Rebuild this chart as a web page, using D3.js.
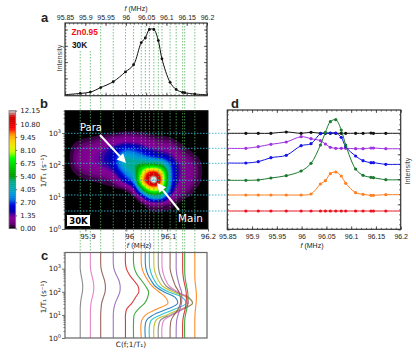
<!DOCTYPE html>
<html><head><meta charset="utf-8">
<script src="https://cdn.jsdelivr.net/npm/d3@7"></script>
<style>html,body{margin:0;padding:0;background:#fff}svg{display:block}
.lib{font-family:"Liberation Sans",Arial,sans-serif}.dv{font-family:"DejaVu Sans",sans-serif}</style>
</head><body><svg id="c" width="416" height="352"></svg>
<script>
const freqs=[95.8875,95.9125,95.938,95.969,95.999,96.019,96.038,96.048,96.058,96.069,96.08,96.089,96.109,96.124,96.14,96.145,96.17];
const spectrum=[0.02,0.04,0.11,0.2,0.35,0.46,0.8,0.87,1,1,0.83,0.55,0.19,0.08,0.035,0.03,0.01];
const xTicksTop=[95.85,95.9,95.95,96,96.05,96.1,96.15,96.2];
const xTicksHeat=[95.9,96,96.1,96.2];
const black=[9.6,9.6,9.6,9.73,9.6,9.7,9.6,9.6,9.6,9.6,9.6,9.6,9.6,9.6,9.63,9.6,9.6];
const purple=[8.1,8.26,8.5,8.73,9.26,9.06,8.86,8.53,8.2,8.1,8.1,8.1,8.06,8.06,8.13,8.13,8.06];
const blue=[6.63,6.76,7.16,7.4,8.36,8.56,9.56,9.63,9.63,9.63,9.2,8.26,7.33,6.86,6.66,6.66,6.5];
const green=[4.9,4.93,5.13,5.36,5.83,6.6,8.43,9.7,10.76,10.96,9.93,8.43,6.03,5.4,5.2,5.16,4.96];
const orange=[3.43,3.43,3.43,3.43,3.43,3.53,4.53,4.86,5.56,5.73,5.33,4.6,3.66,3.5,3.4,3.4,3.46];
const red=[1.83,1.83,1.83,1.83,1.83,1.83,1.83,1.83,1.83,1.83,1.83,1.83,1.83,1.83,1.83,1.83,1.83];
const baselines=[9.6,8.1,6.6,4.9,3.43,1.83];
const colorbarTicks=[0,1.35,2.7,4.05,5.4,6.75,8.1,9.45,10.8,12.15];
const logRows=[0,0.75,1,1.25,1.5,1.75,2,2.25,2.5,2.75,3,3.25,3.7];
const heatFreqs=[95.85,...freqs,96.2];
const heat=[
[0,0,0,0,0,0,0,0,0,0,0,0,0],
[0,0,0,0,.1,.35,.7,.8,.6,.25,0,0,0],
[0,0,0,.05,.2,.6,1,1.1,.85,.4,.05,0,0],
[0,0,0,.1,.3,.85,1.4,1.5,1.2,.6,.12,0,0],
[0,0,0,.15,.6,1.4,2.1,2.2,1.8,.9,.2,0,0],
[0,0,0,.4,2,3.2,4.3,4,2.6,1.2,.3,0,0],
[0,0,.2,1.5,3.5,4.5,4.8,3.8,2.5,1.1,.3,0,0],
[0,.1,1.4,5,8.5,7.8,5.6,3.4,2.1,1,.25,0,0],
[0,.3,2.6,7,10.3,9.6,5.9,3.1,1.8,.8,.2,0,0],
[0,.5,3.6,8.2,11.7,10.6,6,2.9,1.6,.7,.15,0,0],
[0,.6,4.2,8.6,12.4,10.8,6,2.7,1.4,.6,.1,0,0],
[0,.6,4,8,10.9,9.8,5.6,2.5,1.3,.5,.1,0,0],
[0,.5,3.4,6.6,8.5,8,5,2.3,1.2,.5,.1,0,0],
[0,.3,1.3,2.6,3.3,3.3,2.8,1.7,1,.4,0,0,0],
[0,.15,.6,1.2,1.7,1.8,1.7,1.1,.6,.2,0,0,0],
[0,.05,.35,.8,1.1,1.2,1.1,.75,.35,.1,0,0,0],
[0,0,.25,.65,.95,1.05,.95,.6,.25,.05,0,0,0],
[0,0,.05,.2,.4,.5,.45,.25,.05,0,0,0,0],
[0,0,0,0,0,0,0,0,0,0,0,0,0]];
const sliceColors=["#7f7f7f","#e377c2","#8c564b","#9467bd","#d62728","#2ca02c","#ff7f0e","#1f77b4","#17becf","#bcbd22","#7f7f7f","#e377c2","#8c564b","#9467bd","#d62728","#2ca02c","#ff7f0e"];
const specStops=[[0,0,0],[.4667,0,.5333],[.5333,0,.6],[0,0,.6667],[0,0,.8667],[0,.4667,.8667],[0,.6,.8667],[0,.6667,.6667],[0,.6667,.5333],[0,.6,0],[0,.7333,0],[0,.8667,0],[0,1,0],[.7333,1,0],[.9333,.9333,0],[1,.8,0],[1,.6,0],[1,0,0],[.8667,0,0],[.8,0,0],[.8,.8,.8]];

const svg=d3.select("#c");
const specInterp=d3.piecewise(d3.interpolateRgb,specStops.map(c=>d3.rgb(c[0]*255,c[1]*255,c[2]*255)));
const color=d3.scaleSequential(specInterp).domain([0,12.15]);
const PA={l:65,r:207,t:23,b:95.7},PB={l:65,r:208,t:110.7,b:229},PC={l:65,r:207,t:252.5,b:338},PD={l:227.3,r:400.7,t:110,b:229.3};
const xA=d3.scaleLinear([95.85,96.2],[PA.l,PA.r]);
const yA=d3.scaleLinear([-0.015,1.1],[PA.b,PA.t]);
const xB=d3.scaleLinear([95.85,96.2],[PB.l,PB.r]);
const yB=d3.scaleLog([1,5000],[PB.b,PB.t]);
const xC=d3.scaleLinear([95.85,96.2],[PC.l,PC.r]);
const yC=d3.scaleLog([1,5000],[PC.b,PC.t]);
const xD=d3.scaleLinear([95.85,96.2],[PD.l,PD.r]);
const yD=d3.scaleLinear([0,11.93],[PD.b,PD.t]);
const cOff=d3.scaleLinear([0,12.15],[0,38]);
const colIndex=d3.scaleLinear(heatFreqs,d3.range(heatFreqs.length));
const rowIndex=d3.scaleLinear(logRows,d3.range(logRows.length));
const cr=(a,b,c,d,t)=>0.5*(2*b+(c-a)*t+(2*a-5*b+4*c-d)*t*t+(3*b-a-3*c+d)*t*t*t);
function field(f,lg){
 const u=colIndex(f),v=rowIndex(lg),i=Math.floor(u),j=Math.floor(v),tu=u-i,tv=v-j;
 const nc=heat.length-1,nr=logRows.length-1,cl=(x,m)=>Math.max(0,Math.min(m,x));
 const rows=[-1,0,1,2].map(dj=>{const r=cl(j+dj,nr);
  return cr(heat[cl(i-1,nc)][r],heat[cl(i,nc)][r],heat[cl(i+1,nc)][r],heat[cl(i+2,nc)][r],tu);});
 return Math.max(0,cr(rows[0],rows[1],rows[2],rows[3],tv));
}
// heat map
const W=Math.round(PB.r-PB.l),H=Math.round(PB.b-PB.t);
const vals=new Float64Array(W*H);
for(let j=0;j<H;j++)for(let i=0;i<W;i++)vals[j*W+i]=field(xB.invert(PB.l+i+.5),Math.log10(yB.invert(PB.t+j+.5)));
const levels=d3.range(1,61).map(k=>k*12.15/60);
const hg=svg.append("g");
hg.append("rect").attr("x",PB.l).attr("y",PB.t).attr("width",PB.r-PB.l).attr("height",PB.b-PB.t).attr("fill","#000");
const cs=d3.contours().size([W,H]).thresholds(levels)(Array.from(vals));
const gp=d3.geoPath();
hg.append("g").attr("transform",`translate(${PB.l},${PB.t})`).selectAll("path").data(cs).join("path")
 .attr("d",gp).attr("fill",d=>color(d.value+0.1)).attr("stroke","none");
// guides
const gl=svg.append("g");
freqs.forEach((f,i)=>gl.append("line").attr("x1",xA(f)).attr("x2",xA(f)).attr("y1",i<2?51:PA.t).attr("y2",PC.t)
 .attr("stroke","#55b060").attr("stroke-width",.9).attr("stroke-dasharray","1.5,1.5").attr("opacity",.85));
baselines.forEach(b=>gl.append("line").attr("x1",PB.l).attr("x2",PD.l).attr("y1",yD(b)).attr("y2",yD(b))
 .attr("stroke","#2fb4d8").attr("stroke-width",.9).attr("stroke-dasharray","1.5,1.5"));
// helper
function frame(P,col,w){svg.append("rect").attr("x",P.l).attr("y",P.t).attr("width",P.r-P.l).attr("height",P.b-P.t).attr("fill","none").attr("stroke",col).attr("stroke-width",w);}
function ticks(axis,tr,vals,size,labels,cls,fs,col){
 const g=svg.append("g").attr("transform",tr).call(axis.tickValues(vals).tickSize(size).tickFormat(labels||(()=>"")));
 g.select(".domain").remove();g.selectAll("line").attr("stroke",col||"#222").attr("stroke-width",.7);
 g.selectAll("text").attr("class",cls||"lib").attr("font-size",fs||7).attr("fill","#222").attr("font-family",null);return g;}
const minorX=d3.range(95.85,96.2001,0.01),majX=xTicksTop;
function boxTicks(P,x,y,yMaj,yMin,withTop,withBottomLabels){
 ticks(d3.axisBottom(x),`translate(0,${P.b})`,minorX,-1.5);
 ticks(d3.axisBottom(x),`translate(0,${P.b})`,majX,-3,withBottomLabels?(d=>d3.format("~g")(d)):null).selectAll("text").attr("y",5);
 ticks(d3.axisTop(x),`translate(0,${P.t})`,minorX,-1.5);
 ticks(d3.axisTop(x),`translate(0,${P.t})`,majX,-3,withTop?(d=>d3.format("~g")(d)):null).selectAll("text").attr("y",-3);
 [[d3.axisLeft(y),P.l],[d3.axisRight(y),P.r]].forEach(([a,px])=>{
  ticks(a,`translate(${px},0)`,yMin,-1.5);ticks(a,`translate(${px},0)`,yMaj,-3);});
}
// panel a
const lineA=d3.line().x(d=>xA(d[0])).y(d=>yA(d[1])).curve(d3.curveCatmullRom);
svg.append("path").attr("d",lineA([[95.85,0],...freqs.map((f,i)=>[f,spectrum[i]]),[96.2,0]])).attr("fill","none").attr("stroke","#111").attr("stroke-width",1);
svg.append("g").selectAll("circle").data(freqs).join("circle").attr("cx",d=>xA(d)).attr("cy",(d,i)=>yA(spectrum[i])).attr("r",1.4).attr("fill","#111");
boxTicks(PA,xA,yA,[0,.25,.5,.75,1],d3.range(0,1.1,.05),true,false);
frame(PA,"#333",1.2);
// panel b axes
const decades=[1,10,100,1000];
const minorLog=d3.range(0,4).flatMap(k=>[2,3,4,5,6,7,8,9].map(m=>m*Math.pow(10,k))).filter(v=>v<=5000);
function logLabels(g){g.selectAll("text").each(function(d){const t=d3.select(this);t.text("");
  t.append("tspan").text("10");t.append("tspan").attr("dy",-3).attr("font-size",5).text(Math.round(Math.log10(d)));});}
function logAxis(P,y,col){
 ticks(d3.axisLeft(y),`translate(${P.l},0)`,minorLog,1.5,null,"dv",7,col);
 const g=ticks(d3.axisLeft(y),`translate(${P.l},0)`,decades,3,d=>d,"dv",7.2,col);logLabels(g);g.selectAll("text").attr("x",-4);}
logAxis(PB,yB,"#333");
ticks(d3.axisBottom(xB),`translate(0,${PB.b})`,xTicksHeat,2.5,d=>d3.format("~g")(d),"dv",7,"#333").selectAll("text").attr("y",5).attr("dx",(d,i)=>[2,3,1,0][i]);
frame(PB,"#111",1);
// colorbar
const cb={l:9,r:15.7,t:110.7,b:228.5};
const yCb=d3.scaleLinear([0,12.15],[cb.b,cb.t]);
svg.append("g").selectAll("rect").data(levels).join("rect").attr("x",cb.l).attr("width",cb.r-cb.l)
 .attr("y",d=>yCb(d)).attr("height",d=>yCb(d-12.15/60)-yCb(d)+.4).attr("fill",d=>color(d-0.1));
frame(cb,"#777",.8);
ticks(d3.axisRight(yCb),`translate(${cb.r},0)`,colorbarTicks,1.5,d=>d3.format(".2f")(d),"dv",7,"#333");
// panel c
const lineC=d3.line().y(d=>yC(Math.pow(10,d.lg))).x(d=>d.x).curve(d3.curveCatmullRom);
freqs.forEach((f,i)=>{
 const pts=logRows.map((lg,j)=>({lg,x:xC(f)+cOff(heat[i+1][j])}));
 svg.append("path").attr("d",lineC(pts)).attr("fill","none").attr("stroke",sliceColors[i]).attr("stroke-width",1.1).attr("opacity",.9);
});
logAxis(PC,yC,"#333");
frame(PC,"#666",1.2);
// panel d
const seriesD=[[black,"#111"],[purple,"#a032e0"],[blue,"#1414e6"],[green,"#1c7a30"],[orange,"#ff7f1e"],[red,"#e8141e"]];
const lineD=d3.line().x(d=>xD(d[0])).y(d=>yD(d[1])).curve(d3.curveCatmullRom);
seriesD.forEach(([vals,col])=>{
 const pts=[[95.85,vals[0]],...freqs.map((f,i)=>[f,vals[i]]),[96.2,vals[vals.length-1]]];
 svg.append("path").attr("d",lineD(pts)).attr("fill","none").attr("stroke",col).attr("stroke-width",1);
 svg.append("g").selectAll("circle").data(freqs).join("circle").attr("cx",d=>xD(d)).attr("cy",(d,i)=>yD(vals[i])).attr("r",1.6).attr("fill",col);
});
boxTicks(PD,xD,yD,d3.range(0,12,2.5),d3.range(0,12,.5),false,true);
frame(PD,"#333",1.2);
// labels
function txt(x,y,s,o={}){const t=svg.append("text").attr("x",x).attr("y",y).text(s).attr("class",o.cls||"lib").attr("font-size",o.fs||7).attr("fill",o.fill||"#222").attr("text-anchor",o.a||"middle");
 if(o.b)t.attr("font-weight","bold");if(o.rot)t.attr("transform",`rotate(-90 ${x} ${y})`);return t;}
function fLabel(x,y,cls){const t=txt(x,y,"",{cls,fs:7});t.append("tspan").attr("font-style","italic").text("f");t.append("tspan").text(" (MHz)");}
fLabel(136,11,"lib");fLabel(139,248,"dv");fLabel(312,248,"lib");
txt(44.5,22,"a",{b:1,fs:13});txt(44,108,"b",{b:1,fs:13});txt(44.5,260,"c",{b:1,fs:13});txt(235,108,"d",{b:1,fs:13});
txt(71.5,35,"Zn0.95",{b:1,fs:8.3,fill:"#f01010",a:"start"});
txt(72,48,"30K",{b:1,fs:8.3,fill:"#111",a:"start"});
txt(62,58,"Intensity",{fs:7.2,rot:1,fill:"#444"});
txt(410,171,"Intensity",{fs:7.2,rot:1,fill:"#444"});
txt(46,171,"1/T₁ (s⁻¹)",{cls:"dv",fs:7.2,rot:1});
txt(46,297,"1/T₁ (s⁻¹)",{cls:"dv",fs:7.2,rot:1});
txt(131,347,"C(f;1/T₁)",{cls:"dv",fs:7.3});
// annotations
function arrow(x1,y1,x2,y2){const a=Math.atan2(y2-y1,x2-x1),hl=9,hw=4.5,bx=x2-hl*Math.cos(a),by=y2-hl*Math.sin(a),nx=-Math.sin(a),ny=Math.cos(a);
 svg.append("line").attr("x1",x1).attr("y1",y1).attr("x2",bx).attr("y2",by).attr("stroke","#fff").attr("stroke-width",2);
 svg.append("path").attr("d",`M${x2},${y2}L${bx+nx*hw},${by+ny*hw}L${bx-nx*hw},${by-ny*hw}Z`).attr("fill","#fff");}
arrow(100,135,126,163);arrow(179,210,157,183);
txt(91,131,"Para",{cls:"dv",fs:10,fill:"#fff"});txt(190.5,221.5,"Main",{cls:"dv",fs:10.4,fill:"#fff"});
svg.append("rect").attr("x",66.5).attr("y",214.5).attr("width",24).attr("height",12).attr("rx",1).attr("fill","#fff").attr("stroke","#000").attr("stroke-width",1);
txt(78.5,224,"30K",{cls:"dv",b:1,fs:8.5,fill:"#000"});
</script></body></html>
